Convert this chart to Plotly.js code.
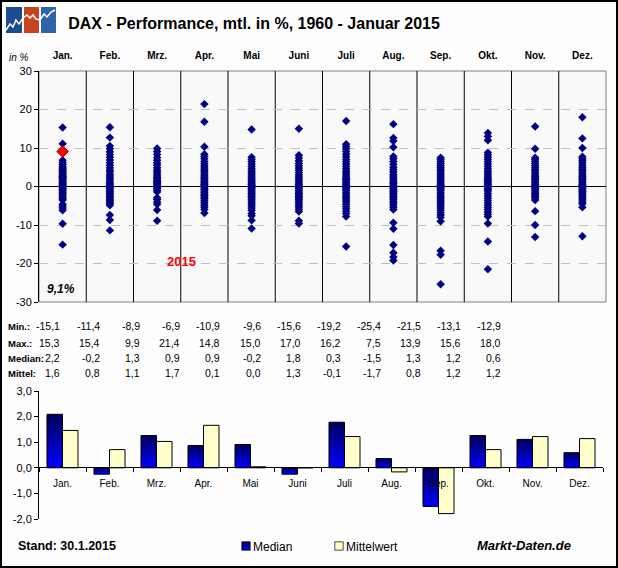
<!DOCTYPE html>
<html><head><meta charset="utf-8">
<script src="https://cdn.plot.ly/plotly-3.0.1.min.js"></script>
<style>
html,body{margin:0;padding:0;background:#fff;}
#wrap{position:relative;width:618px;height:568px;}
#chart{width:618px;height:568px;}
#frame{position:absolute;left:0;top:0;width:618px;height:568px;box-sizing:border-box;border:2px solid #000;pointer-events:none;}
</style>
</head><body><div id="wrap"><div id="chart"></div><div id="frame"></div></div>
<script>
// ---------- DATA ----------
const months = ['Jan.','Feb.','Mrz.','Apr.','Mai','Juni','Juli','Aug.','Sep.','Okt.','Nov.','Dez.'];

const janVals = [15.3,11.1,6.8,6.2,5.7,5.1,4.8,4.5,4.1,3.8,3.5,3.2,2.9,2.6,2.4,2.2,2.0,1.7,1.4,1.1,0.8,0.5,0.2,-0.1,-0.4,-0.8,-1.1,-1.5,-1.9,-2.3,-2.7,-3.1,-3.5,-4.6,-5.1,-5.6,-6.2,-9.7,-15.1];
const febVals = [15.4,12.7,10.5,9.8,9.0,8.3,7.6,6.9,6.2,5.5,4.9,4.3,3.8,3.2,2.7,2.2,1.7,1.2,0.8,0.4,0.1,-0.2,-0.5,-0.9,-1.3,-1.7,-2.1,-2.5,-2.9,-3.3,-3.7,-4.1,-4.5,-4.9,-7.4,-8.7,-11.4];
const mrzVals = [9.9,9.1,8.3,7.5,6.8,6.1,5.5,4.9,4.3,3.8,3.3,2.8,2.4,2.0,1.6,1.3,1.0,0.7,0.4,0.1,-0.2,-0.6,-1.0,-1.4,-2.9,-3.4,-4.0,-4.6,-6.1,-8.9];
const aprVals = [21.4,16.8,10.3,8.4,7.8,7.2,6.5,5.9,5.3,4.8,4.3,3.8,3.3,2.8,2.4,2.0,1.6,1.2,0.9,0.6,0.3,0.0,-0.4,-0.8,-1.2,-1.6,-2.0,-2.4,-2.8,-3.2,-3.7,-4.2,-4.8,-5.4,-6.0,-6.9];
const maiVals = [14.8,7.6,7.0,6.4,5.8,5.2,4.6,4.0,3.5,3.0,2.5,2.0,1.6,1.2,0.9,0.5,0.2,-0.2,-0.6,-1.0,-1.4,-1.8,-2.2,-2.6,-3.0,-3.5,-4.0,-4.5,-5.0,-5.6,-6.2,-7.0,-7.6,-8.8,-10.9];
const juniVals = [15.0,8.1,7.4,6.7,6.0,5.4,4.8,4.2,3.6,3.0,2.5,2.0,1.5,1.0,0.6,0.2,-0.2,-0.6,-1.0,-1.4,-1.8,-2.2,-2.6,-3.0,-3.4,-3.8,-4.3,-4.8,-5.3,-5.9,-6.5,-8.9,-9.6];
const juliVals = [17.0,11.0,10.4,9.8,9.1,8.4,7.7,7.0,6.4,5.8,5.2,4.6,4.0,3.5,3.0,2.5,2.1,1.8,1.4,1.0,0.6,0.2,-0.2,-0.6,-1.0,-1.5,-2.0,-2.5,-3.0,-3.5,-4.0,-4.6,-5.2,-5.8,-6.4,-7.0,-7.8,-15.6];
const augVals = [16.2,12.6,11.8,10.2,7.8,7.2,6.5,5.8,5.0,4.4,3.8,3.2,2.7,2.2,1.7,1.2,0.8,0.3,-0.1,-0.5,-0.9,-1.3,-1.7,-2.1,-2.5,-2.9,-3.3,-3.8,-4.3,-4.8,-5.4,-6.0,-9.4,-11.0,-15.2,-17.2,-18.3,-19.2];
const sepVals = [7.5,7.0,6.5,6.0,5.5,5.0,4.5,4.0,3.5,3.0,2.5,2.0,1.5,1.0,0.6,0.2,-0.2,-0.6,-1.0,-1.5,-2.0,-2.5,-3.0,-3.5,-4.0,-4.5,-5.0,-5.6,-6.2,-6.8,-7.4,-8.0,-9.0,-16.7,-17.7,-25.4];
const oktVals = [13.9,13.0,12.0,8.8,8.2,7.6,7.0,6.4,5.8,5.2,4.6,4.0,3.5,3.0,2.5,2.0,1.6,1.3,0.9,0.5,0.1,-0.4,-0.8,-1.2,-1.8,-2.4,-3.0,-3.6,-4.2,-4.8,-5.4,-6.0,-6.6,-7.2,-7.8,-9.6,-14.3,-21.5];
const novVals = [15.6,9.8,7.5,7.0,6.5,6.0,5.5,5.0,4.5,4.0,3.5,3.0,2.6,2.2,1.8,1.4,1.0,0.6,0.2,-0.2,-0.6,-1.0,-1.4,-1.8,-2.2,-2.6,-3.0,-3.5,-6.4,-10.0,-13.1];
const dezVals = [18.0,12.5,10.0,7.7,7.2,6.7,6.2,5.6,5.0,4.5,4.0,3.5,3.0,2.6,2.2,1.8,1.4,1.0,0.6,0.3,-0.1,-0.5,-0.9,-1.3,-1.7,-2.1,-2.5,-3.0,-3.5,-4.0,-4.5,-5.4,-12.9];
const monthVals = [janVals,febVals,mrzVals,aprVals,maiVals,juniVals,juliVals,augVals,sepVals,oktVals,novVals,dezVals];

const jan2015 = 9.1;

const minVals    = [-15.1,-11.4,-8.9,-6.9,-10.9,-9.6,-15.6,-19.2,-25.4,-21.5,-13.1,-12.9];
const maxVals    = [15.3,15.4,9.9,21.4,14.8,15.0,17.0,16.2,7.5,13.9,15.6,18.0];
const medianVals = [2.2,-0.2,1.3,0.9,0.9,-0.2,1.8,0.3,-1.5,1.3,1.2,0.6];
const meanVals   = [1.6,0.8,1.1,1.7,0.1,0.0,1.3,-0.1,-1.7,0.8,1.2,1.2];

const medianBar = [2.09,-0.25,1.26,0.87,0.91,-0.25,1.78,0.36,-1.51,1.26,1.11,0.59];
const meanBar   = [1.46,0.71,1.03,1.66,0.04,0.0,1.22,-0.16,-1.79,0.71,1.22,1.14];

const topTickVals = [-30,-20,-10,0,10,20,30];
const topTickText = ['-30','-20','-10','0','10','20','30'];
const barTickVals = [-2,-1,0,1,2,3];
const barTickText = ['-2,0','-1,0','0,0','1,0','2,0','3,0'];

// ---------- HELPERS ----------
const FONT = 'Liberation Sans, Arial, sans-serif';
const L = 39, T = 71, W = 567, H = 448;
const xp = px => (px - L) / W;
const yp = py => (T + H - py) / H;
const fmt = v => v.toFixed(1).replace('.', ',');

// ---------- TRACES ----------
const sx = [], sy = [];
monthVals.forEach((arr, i) => arr.forEach(v => { sx.push(months[i]); sy.push(v); }));

const traces = [
  {type:'scatter', mode:'markers', x:sx, y:sy, xaxis:'x', yaxis:'y', showlegend:false,
   marker:{symbol:'diamond', size:6.5, color:'#000080', line:{width:0}}},
  {type:'scatter', mode:'markers', x:[months[0]], y:[jan2015], xaxis:'x', yaxis:'y', showlegend:false,
   marker:{symbol:'diamond', size:9, color:'#ff0000', line:{width:1, color:'#b00000'}}},
  {type:'bar', name:'Median', x:months, y:medianBar, xaxis:'x2', yaxis:'y2',
   marker:{color:'#0000a0', line:{color:'#000', width:1}}},
  {type:'bar', name:'Mittelwert', x:months, y:meanBar, xaxis:'x2', yaxis:'y2',
   marker:{color:'#ffffcc', line:{color:'#000', width:1}}}
];

// ---------- ANNOTATIONS ----------
const ann = [];
const rows = [['Min.:', minVals, 326], ['Max.:', maxVals, 343], ['Median:', medianVals, 358], ['Mittel:', meanVals, 373]];
rows.forEach(([lab, vals, py]) => {
  ann.push({xref:'paper', yref:'paper', x:xp(6), y:yp(py), xanchor:'left', yanchor:'middle', showarrow:false,
            text:lab, font:{family:FONT, size:9.5, color:'#000', weight:'bold'}});
  vals.forEach((v, i) => ann.push({xref:'paper', yref:'paper', x:xp(62 + i*40.1), y:yp(py), xanchor:'right', yanchor:'middle',
            showarrow:false, text:fmt(v), font:{family:FONT, size:10.5, color:'#000'}}));
});
ann.push({xref:'paper', yref:'paper', x:xp(7), y:yp(58), xanchor:'left', yanchor:'middle', showarrow:false,
          text:'in %', font:{family:FONT, size:10, color:'#000', style:'italic'}});
ann.push({xref:'paper', yref:'paper', x:xp(181), y:yp(261), xanchor:'center', yanchor:'middle', showarrow:false,
          text:'2015', font:{family:FONT, size:13, color:'#ff0000', weight:'bold'}});
ann.push({xref:'paper', yref:'paper', x:xp(61), y:yp(289), xanchor:'center', yanchor:'middle', showarrow:false,
          text:'9,1%', font:{family:FONT, size:12, color:'#000', weight:'bold', style:'italic'}});
ann.push({xref:'paper', yref:'paper', x:xp(16), y:yp(546), xanchor:'left', yanchor:'middle', showarrow:false,
          text:'Stand: 30.1.2015', font:{family:FONT, size:12.5, color:'#000', weight:'bold'}});
ann.push({xref:'paper', yref:'paper', x:xp(524), y:yp(545), xanchor:'center', yanchor:'middle', showarrow:false,
          text:'Markt-Daten.de', font:{family:FONT, size:13, color:'#000', weight:'bold', style:'italic'}});

// ---------- SHAPES ----------
const shapes = [
  {type:'rect', xref:'x domain', yref:'y domain', x0:0, x1:1, y0:0, y1:1, fillcolor:'#f9f9f9',
   line:{color:'#808080', width:1}, layer:'below'}
];
for (let i = 1; i < months.length; i++) {
  shapes.push({type:'line', xref:'x', yref:'y domain', x0:i-0.5, x1:i-0.5, y0:0, y1:1,
               line:{color:'#000', width:1}, layer:'below'});
}
// logo
const logoRects = [[6,22,'#1d4b8f'],[24,39,'#c4441d'],[41,56,'#2f63a9']];
logoRects.forEach(([a,b,c]) => shapes.push({type:'rect', xref:'paper', yref:'paper',
  x0:xp(a), x1:xp(b), y0:yp(33), y1:yp(7), fillcolor:c, line:{width:0}}));
const logoPts = [[6,30],[10,24],[13,27],[16,20],[19,24],[23,18],[27,15],[30,18],[33,15],[36,19],[40,20],[44,14],[47,17],[51,12],[55,10]];
shapes.push({type:'path', xref:'paper', yref:'paper',
  path: logoPts.map((p, k) => (k ? 'L' : 'M') + xp(p[0]).toFixed(5) + ',' + yp(p[1]).toFixed(5)).join(' '),
  line:{color:'#ffffff', width:1.5}});

// ---------- LAYOUT ----------
const layout = {
  width:618, height:568,
  margin:{l:L, r:618-L-W, t:T, b:568-T-H, autoexpand:false},
  paper_bgcolor:'#fefefe', plot_bgcolor:'rgba(0,0,0,0)',
  font:{family:FONT, size:11, color:'#000'},
  title:{text:'DAX - Performance, mtl. in %, 1960 - Januar 2015', xref:'container', yref:'container',
         x:254/618, y:1-23/568, xanchor:'center', yanchor:'middle', automargin:false,
         font:{family:FONT, size:16, color:'#000', weight:'bold'}},
  showlegend:true,
  legend:{orientation:'h', x:xp(213), y:yp(546), xanchor:'left', yanchor:'middle', itemwidth:30,
          entrywidth:48, entrywidthmode:'pixels',
          bgcolor:'rgba(0,0,0,0)', font:{family:FONT, size:12, color:'#000'}, traceorder:'normal'},
  barmode:'group', bargap:0.34, bargroupgap:0,
  xaxis:{domain:[0,1], anchor:'y', side:'top', type:'category', categoryarray:months, categoryorder:'array',
         range:[-0.5,11.5], showgrid:false, zeroline:false, showline:false, ticks:'', ticklabelstandoff:9,
         tickfont:{family:FONT, size:10, color:'#000', weight:'bold'}},
  yaxis:{domain:[(519-302)/448, 1], anchor:'x', range:[-30,30], tickvals:topTickVals, ticktext:topTickText,
         showgrid:true, gridcolor:'#c0c0c0', griddash:'dash', gridwidth:1,
         zeroline:true, zerolinecolor:'#000', zerolinewidth:1,
         showline:true, linecolor:'#000', linewidth:1, ticks:'outside', ticklen:4, tickcolor:'#000',
         tickfont:{family:FONT, size:11, color:'#000'}},
  xaxis2:{domain:[0, 564/567], anchor:'free', position:(519-467)/448, type:'category', categoryarray:months,
          categoryorder:'array', range:[-0.5,11.5], showgrid:false, zeroline:false,
          showline:true, linecolor:'#000', linewidth:1, ticks:'outside', tickson:'boundaries', ticklen:4,
          tickcolor:'#000', ticklabelstandoff:7, tickfont:{family:FONT, size:10, color:'#000'}},
  yaxis2:{domain:[0,(519-391)/448], anchor:'x2', range:[-2,3], tickvals:barTickVals, ticktext:barTickText,
          showgrid:false, zeroline:false, showline:true, linecolor:'#000', linewidth:1,
          ticks:'outside', ticklen:4, tickcolor:'#000', tickfont:{family:FONT, size:11, color:'#000'}},
  annotations:ann,
  shapes:shapes
};

Plotly.newPlot('chart', traces, layout, {staticPlot:true, displayModeBar:false}).then(gd => {
  const svg = gd.querySelector('svg.main-svg');
  const NS = 'http://www.w3.org/2000/svg';
  let defs = svg.querySelector('defs');
  if (!defs) { defs = document.createElementNS(NS, 'defs'); svg.insertBefore(defs, svg.firstChild); }
  const g = document.createElementNS(NS, 'linearGradient');
  g.setAttribute('id', 'medGrad'); g.setAttribute('x1','0'); g.setAttribute('y1','0'); g.setAttribute('x2','0'); g.setAttribute('y2','1');
  [['0','#00005a'],['1','#0000ff']].forEach(([o,c]) => {
    const s = document.createElementNS(NS, 'stop'); s.setAttribute('offset', o); s.setAttribute('stop-color', c); g.appendChild(s);
  });
  defs.appendChild(g);
  const barTraces = gd.querySelectorAll('.barlayer .trace');
  if (barTraces[0]) barTraces[0].querySelectorAll('path').forEach(p => { p.style.fill = 'url(#medGrad)'; });
  const legTraces = gd.querySelectorAll('.legend .traces');
  legTraces.forEach((t, k) => {
    t.querySelectorAll('.legendpoints path').forEach(p => {
      if (k === 0) p.style.fill = 'url(#medGrad)';
      p.setAttribute('transform', 'translate(33,0) scale(0.7)');
    });
  });
});
</script></body></html>
